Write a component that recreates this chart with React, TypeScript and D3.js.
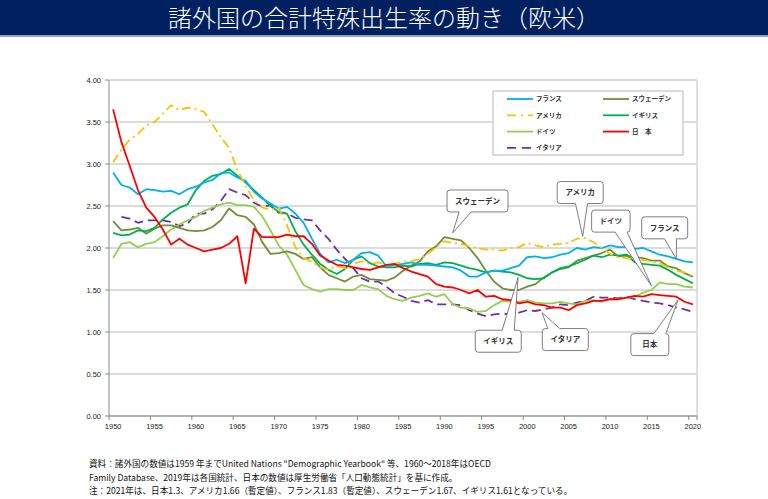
import React from 'react';
import * as d3 from 'd3';

const years: number[] = d3.range(1950, 2021);

const japan = [3.65, 3.26, 2.98, 2.69, 2.48, 2.37, 2.22, 2.04, 2.11, 2.04, 2.00, 1.96, 1.98, 2.00, 2.05, 2.14, 1.58, 2.23, 2.13, 2.13, 2.13, 2.16, 2.14, 2.14, 2.05, 1.91, 1.85, 1.80, 1.79, 1.77, 1.75, 1.74, 1.77, 1.80, 1.81, 1.76, 1.72, 1.69, 1.66, 1.57, 1.54, 1.53, 1.50, 1.46, 1.50, 1.42, 1.43, 1.39, 1.38, 1.34, 1.36, 1.33, 1.32, 1.29, 1.29, 1.26, 1.32, 1.34, 1.37, 1.37, 1.39, 1.39, 1.41, 1.43, 1.42, 1.45, 1.44, 1.43, 1.42, 1.36, 1.33];
const france = [2.90, 2.75, 2.72, 2.64, 2.70, 2.69, 2.67, 2.68, 2.64, 2.70, 2.73, 2.78, 2.81, 2.89, 2.90, 2.84, 2.80, 2.67, 2.59, 2.53, 2.47, 2.49, 2.41, 2.30, 2.11, 1.93, 1.83, 1.86, 1.82, 1.86, 1.94, 1.95, 1.91, 1.78, 1.80, 1.81, 1.83, 1.80, 1.80, 1.79, 1.78, 1.77, 1.73, 1.66, 1.66, 1.71, 1.73, 1.73, 1.76, 1.79, 1.89, 1.90, 1.88, 1.89, 1.92, 1.94, 2.00, 1.98, 2.01, 2.00, 2.03, 2.01, 2.01, 1.99, 2.00, 1.96, 1.92, 1.90, 1.87, 1.84, 1.83];
const usa = [3.02, 3.17, 3.29, 3.36, 3.46, 3.50, 3.60, 3.70, 3.64, 3.67, 3.65, 3.62, 3.47, 3.32, 3.19, 2.93, 2.74, 2.57, 2.48, 2.46, 2.48, 2.27, 2.01, 1.88, 1.84, 1.77, 1.74, 1.79, 1.76, 1.81, 1.84, 1.81, 1.83, 1.80, 1.81, 1.84, 1.84, 1.87, 1.93, 2.01, 2.08, 2.06, 2.05, 2.02, 2.00, 1.98, 1.98, 1.97, 2.00, 2.01, 2.06, 2.03, 2.01, 2.04, 2.05, 2.06, 2.11, 2.12, 2.07, 2.00, 1.93, 1.89, 1.88, 1.86, 1.86, 1.84, 1.82, 1.77, 1.73, 1.71, 1.64];
const uk = [2.18, 2.15, 2.16, 2.21, 2.20, 2.24, 2.34, 2.42, 2.48, 2.52, 2.69, 2.80, 2.86, 2.88, 2.94, 2.86, 2.78, 2.69, 2.60, 2.50, 2.43, 2.41, 2.20, 2.04, 1.92, 1.81, 1.74, 1.69, 1.75, 1.86, 1.90, 1.82, 1.78, 1.77, 1.77, 1.79, 1.78, 1.81, 1.82, 1.80, 1.83, 1.82, 1.79, 1.76, 1.74, 1.71, 1.73, 1.72, 1.71, 1.68, 1.64, 1.63, 1.64, 1.71, 1.76, 1.78, 1.82, 1.86, 1.91, 1.89, 1.92, 1.91, 1.92, 1.83, 1.81, 1.80, 1.79, 1.74, 1.68, 1.63, 1.58];
const sweden = [2.32, 2.21, 2.22, 2.24, 2.17, 2.23, 2.27, 2.27, 2.24, 2.21, 2.20, 2.21, 2.25, 2.33, 2.47, 2.39, 2.37, 2.28, 2.07, 1.93, 1.94, 1.96, 1.93, 1.87, 1.89, 1.77, 1.68, 1.64, 1.60, 1.66, 1.68, 1.63, 1.62, 1.61, 1.65, 1.73, 1.79, 1.84, 1.96, 2.02, 2.13, 2.11, 2.09, 2.00, 1.88, 1.73, 1.60, 1.52, 1.50, 1.50, 1.54, 1.57, 1.65, 1.71, 1.75, 1.77, 1.85, 1.88, 1.91, 1.94, 1.98, 1.90, 1.91, 1.89, 1.88, 1.85, 1.85, 1.78, 1.76, 1.70, 1.66];
const germany = [1.88, 2.05, 2.07, 2.01, 2.05, 2.07, 2.14, 2.22, 2.28, 2.33, 2.37, 2.44, 2.48, 2.52, 2.54, 2.51, 2.51, 2.49, 2.38, 2.21, 2.03, 1.92, 1.74, 1.56, 1.51, 1.48, 1.51, 1.51, 1.50, 1.50, 1.56, 1.53, 1.51, 1.43, 1.39, 1.37, 1.41, 1.43, 1.46, 1.42, 1.45, 1.33, 1.29, 1.28, 1.24, 1.25, 1.32, 1.37, 1.36, 1.36, 1.38, 1.35, 1.34, 1.34, 1.36, 1.34, 1.33, 1.37, 1.38, 1.36, 1.39, 1.39, 1.41, 1.42, 1.47, 1.50, 1.59, 1.57, 1.57, 1.54, 1.53];
const italy: (number | null)[] = [null, 2.37, 2.35, 2.30, 2.33, 2.33, 2.33, 2.31, 2.26, 2.29, 2.41, 2.41, 2.46, 2.56, 2.70, 2.66, 2.63, 2.54, 2.49, 2.51, 2.42, 2.41, 2.36, 2.34, 2.33, 2.21, 2.11, 1.98, 1.87, 1.76, 1.64, 1.60, 1.60, 1.54, 1.46, 1.42, 1.37, 1.35, 1.38, 1.33, 1.33, 1.33, 1.32, 1.26, 1.22, 1.19, 1.21, 1.22, 1.21, 1.23, 1.26, 1.25, 1.27, 1.29, 1.33, 1.32, 1.35, 1.37, 1.42, 1.41, 1.41, 1.40, 1.42, 1.39, 1.37, 1.35, 1.34, 1.32, 1.29, 1.27, 1.24];

const yTicks = [0, 0.5, 1, 1.5, 2, 2.5, 3, 3.5, 4];
const xLabelYears = [1950, 1955, 1960, 1965, 1970, 1975, 1980, 1985, 1990, 1995, 2000, 2005, 2010, 2015, 2020];

const series = [
  { key: 'france', label: 'フランス', values: france, color: '#00B0F0', dash: '' },
  { key: 'usa', label: 'アメリカ', values: usa, color: '#FFC000', dash: '9,4,2,4' },
  { key: 'germany', label: 'ドイツ', values: germany, color: '#92D050', dash: '' },
  { key: 'italy', label: 'イタリア', values: italy, color: '#7030A0', dash: '9,5' },
  { key: 'sweden', label: 'スウェーデン', values: sweden, color: '#6F8F3A', dash: '' },
  { key: 'uk', label: 'イギリス', values: uk, color: '#00B050', dash: '' },
  { key: 'japan', label: '日\u3000本', values: japan, color: '#FF0000', dash: '' },
];

const drawOrder = ['italy', 'germany', 'sweden', 'uk', 'france', 'usa', 'japan'];

const callouts = [
  { label: 'スウェーデン', tipYear: 1991, tipValue: 2.18, boxYear: 1994.0, boxValue: 2.56 },
  { label: 'アメリカ', tipYear: 2006.7, tipValue: 2.14, boxYear: 2006.4, boxValue: 2.66 },
  { label: 'ドイツ', tipYear: 2015, tipValue: 1.55, boxYear: 2010.1, boxValue: 2.32 },
  { label: 'フランス', tipYear: 2018, tipValue: 1.87, boxYear: 2016.6, boxValue: 2.24 },
  { label: 'イギリス', tipYear: 1998.9, tipValue: 1.65, boxYear: 1996.5, boxValue: 0.89 },
  { label: 'イタリア', tipYear: 2001.8, tipValue: 1.23, boxYear: 2004.6, boxValue: 0.91 },
  { label: '日本', tipYear: 2018.2, tipValue: 1.38, boxYear: 2014.8, boxValue: 0.85 },
];

const title = '諸外国の合計特殊出生率の動き（欧米）';
const notes = [
  '資料：諸外国の数値は1959 年までUnited Nations "Demographic Yearbook" 等、1960～2018年はOECD',
  'Family Database、2019年は各国統計、日本の数値は厚生労働省「人口動態統計」を基に作成。',
  '注：2021年は、日本1.3、アメリカ1.66（暫定値）、フランス1.83（暫定値）、スウェーデン1.67、イギリス1.61となっている。',
];

const W = 768;
const H = 499;
const plot = { left: 109, right: 697, top: 80, bottom: 416 };
const jpFont = '"Noto Sans CJK JP", "Noto Sans", sans-serif';
const numFont = '"Liberation Sans", Arial, sans-serif';

function calloutPath(l: number, t: number, w: number, h: number, r: number, tx: number, ty: number, b1: number, b2: number) {
  const rt = l + w;
  const bt = t + h;
  if (ty > bt) {
    return `M${l + r},${t} H${rt - r} Q${rt},${t} ${rt},${t + r} V${bt - r} Q${rt},${bt} ${rt - r},${bt} H${b2} L${tx},${ty} L${b1},${bt} H${l + r} Q${l},${bt} ${l},${bt - r} V${t + r} Q${l},${t} ${l + r},${t} Z`;
  }
  return `M${l + r},${t} H${b1} L${tx},${ty} L${b2},${t} H${rt - r} Q${rt},${t} ${rt},${t + r} V${bt - r} Q${rt},${bt} ${rt - r},${bt} H${l + r} Q${l},${bt} ${l},${bt - r} V${t + r} Q${l},${t} ${l + r},${t} Z`;
}

export default function App() {
  const x = d3.scaleLinear().domain([1949.5, 2020.5]).range([plot.left, plot.right]);
  const y = d3.scaleLinear().domain([0, 4]).range([plot.bottom, plot.top]);

  const line = d3
    .line<number | null>()
    .defined((d) => d !== null)
    .x((_, i) => x(years[i]))
    .y((d) => y(d as number));

  const byKey: Record<string, (typeof series)[number]> = {};
  series.forEach((s) => (byKey[s.key] = s));

  const legendCols = [
    ['france', 'usa', 'germany', 'italy'],
    ['sweden', 'uk', 'japan'],
  ];
  const legend = { x: 493, y: 91, w: 190, h: 64 };

  return (
    <svg width={W} height={H} style={{ position: 'absolute', left: 0, top: 0, background: '#fff' }}>
      {/* title bar */}
      <rect x={0} y={0} width={W} height={35} fill="#002060" />
      <rect x={0} y={35} width={W} height={2} fill="#8FA4C8" />
      <text x={W / 2} y={27} textAnchor="middle" fill="#fff" fontFamily={jpFont} fontSize={24} fontWeight={300}>
        {title}
      </text>

      {/* gridlines */}
      {yTicks.map((t) => (
        <line key={'g' + t} x1={plot.left} x2={plot.right} y1={y(t)} y2={y(t)} stroke="#D0D0D0" strokeWidth={1.3} />
      ))}
      <line x1={plot.right} x2={plot.right} y1={plot.top} y2={plot.bottom} stroke="#D0D0D0" strokeWidth={1.3} />

      {/* axes */}
      <line x1={plot.left} x2={plot.left} y1={plot.top} y2={plot.bottom} stroke="#888" strokeWidth={1} />
      <line x1={plot.left} x2={plot.right} y1={plot.bottom} y2={plot.bottom} stroke="#888" strokeWidth={1} />
      {yTicks.map((t) => (
        <g key={'yt' + t}>
          <line x1={plot.left - 4} x2={plot.left} y1={y(t)} y2={y(t)} stroke="#888" />
          <text x={plot.left - 8} y={y(t) + 2.6} textAnchor="end" fontFamily={numFont} fontSize={7.5} fill="#222">
            {t.toFixed(2)}
          </text>
        </g>
      ))}
      {xLabelYears.map((yr) => (
        <g key={'xt' + yr}>
          <line x1={x(yr - 0.5)} x2={x(yr - 0.5)} y1={plot.bottom} y2={plot.bottom + 4} stroke="#888" />
          <text x={x(yr)} y={plot.bottom + 13} textAnchor="middle" fontFamily={numFont} fontSize={7.5} fill="#222">
            {yr}
          </text>
        </g>
      ))}
      <line x1={x(2020.5)} x2={x(2020.5)} y1={plot.bottom} y2={plot.bottom + 4} stroke="#888" />

      {/* series */}
      {drawOrder.map((k) => {
        const s = byKey[k];
        return (
          <path
            key={k}
            d={line(s.values as (number | null)[]) || ''}
            fill="none"
            stroke={s.color}
            strokeWidth={1.8}
            strokeDasharray={s.dash || undefined}
            strokeLinejoin="round"
          />
        );
      })}

      {/* legend */}
      <rect x={legend.x} y={legend.y} width={legend.w} height={legend.h} fill="#fff" stroke="#A6A6A6" strokeWidth={0.8} />
      {legendCols.map((col, ci) =>
        col.map((k, ri) => {
          const s = byKey[k];
          const lx = legend.x + 14 + ci * 96;
          const ly = legend.y + 8 + ri * 16.3;
          return (
            <g key={'lg' + k}>
              <line x1={lx} x2={lx + 26} y1={ly} y2={ly} stroke={s.color} strokeWidth={1.8} strokeDasharray={s.dash ? (k === 'usa' ? '9,5,2,5' : '9,6') : undefined} />
              <text x={lx + 29} y={ly + 2.4} fontFamily={jpFont} fontSize={6.5} fontWeight={700} fill="#333">
                {s.label}
              </text>
            </g>
          );
        })
      )}

      {/* callouts */}
      {callouts.map((c) => {
        const cx = x(c.boxYear);
        const cy = y(c.boxValue);
        const w = Math.max(c.label.length * 7.5 + 16, 38);
        const h = 22;
        const l = cx - w / 2;
        const t = cy - h / 2;
        const tx = x(c.tipYear);
        const ty = y(c.tipValue);
        let bc = cx + 0.5 * (tx - cx);
        bc = Math.max(l + 9, Math.min(l + w - 9, bc));
        return (
          <g key={'co' + c.label}>
            <path d={calloutPath(l, t, w, h, 3, tx, ty, bc - 6, bc + 6)} fill="#fff" stroke="#6F6F6F" strokeWidth={0.9} />
            <text x={cx} y={cy + 2.7} textAnchor="middle" fontFamily={jpFont} fontSize={7.5} fontWeight={700} fill="#333">
              {c.label}
            </text>
          </g>
        );
      })}

      {/* notes */}
      {notes.map((n, i) => (
        <text key={'n' + i} x={89} y={467 + i * 13.5} fontFamily={jpFont} fontSize={8.6} fill="#111">
          {n}
        </text>
      ))}
    </svg>
  );
}
